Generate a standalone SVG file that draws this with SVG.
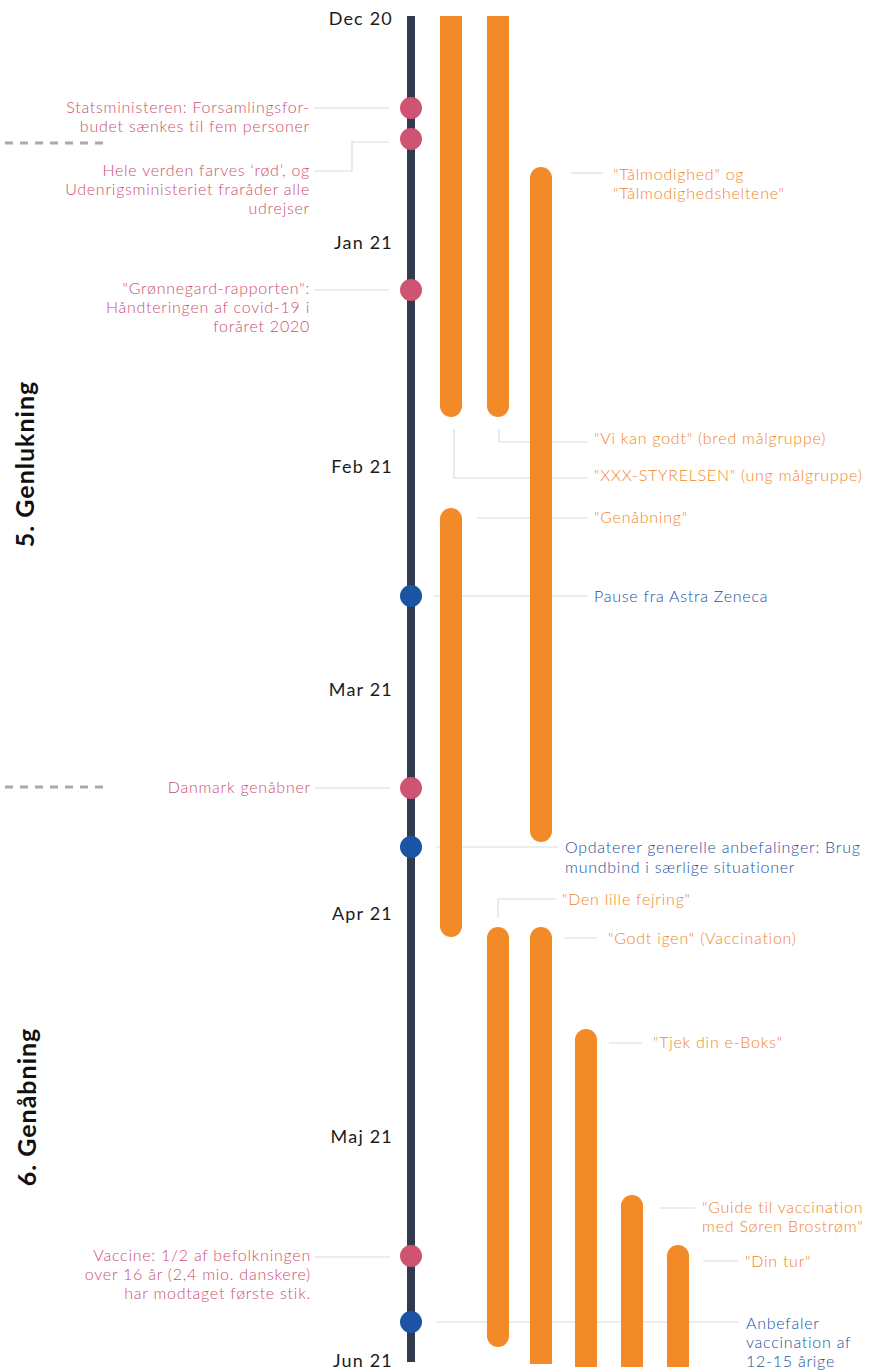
<svg xmlns="http://www.w3.org/2000/svg" width="874" height="1372" viewBox="0 0 874 1372">
<style>
text{font-family:Lato,"Open Sans","Liberation Sans",sans-serif}
.m{font-size:18px;letter-spacing:1.2px;fill:#1c1c1c;text-anchor:end}
.p{font-size:16px;letter-spacing:0.75px;font-weight:300;fill:#cd4f6f;text-anchor:end}
.o{font-size:16px;letter-spacing:0.75px;font-weight:300;fill:#f2861f}
.b{font-size:16px;letter-spacing:0.75px;font-weight:300;fill:#1a50a0}
.sec{font-size:25px;letter-spacing:1px;font-weight:bold;fill:#111;text-anchor:middle}
.c{fill:none;stroke:#dcdcdc;stroke-width:1.2}
.dash{fill:none;stroke:#aaaaaa;stroke-width:3;stroke-dasharray:8,7}
.bar{fill:#f28a27}
.dp{fill:#cf5472}
.db{fill:#1a54a3}
</style>
<rect width="874" height="1372" fill="#fff"/>
<g id="sections">
<line class="dash" x1="5" y1="143" x2="110" y2="143"/>
<line class="dash" x1="5" y1="787" x2="110" y2="787"/>
<text class="sec" transform="translate(34,464) rotate(-90)">5. Genlukning</text>
<text class="sec" transform="translate(36,1107) rotate(-90)">6. Genåbning</text>
</g>
<g id="connectors">
<path class="c" d="M314,108 H389"/>
<path class="c" d="M314,171 H352 V142 H389"/>
<path class="c" d="M314,290 H389"/>
<path class="c" d="M315,788 H390"/>
<path class="c" d="M315,1257 H390"/>
<path class="c" d="M571,173 H603"/>
<path class="c" d="M499,429 V442 H588"/>
<path class="c" d="M454,429 V478 H588"/>
<path class="c" d="M477,518 H588"/>
<path class="c" d="M433,596 H588"/>
<path class="c" d="M436,847 H558"/>
<path class="c" d="M498,918 V899 H556"/>
<path class="c" d="M564,938 H597"/>
<path class="c" d="M609,1043 H642"/>
<path class="c" d="M660,1208 H695"/>
<path class="c" d="M703,1261 H738"/>
<path class="c" d="M436,1322 H738"/>
</g>
<g id="axis">
<rect x="407" y="16" width="8" height="1346" fill="#313a4f"/>
<text class="m" x="393" y="25">Dec 20</text>
<text class="m" x="393" y="249">Jan 21</text>
<text class="m" x="393" y="473">Feb 21</text>
<text class="m" x="393" y="696">Mar 21</text>
<text class="m" x="393" y="920">Apr 21</text>
<text class="m" x="393" y="1143">Maj 21</text>
<text class="m" x="393" y="1367">Jun 21</text>
</g>
<g id="bars">
<path class="bar" d="M440,16 H462 V406 A11,11 0 0 1 440,406 Z"/>
<path class="bar" d="M487,16 H509 V406 A11,11 0 0 1 487,406 Z"/>
<rect class="bar" x="530" y="167" width="22" height="675" rx="11"/>
<rect class="bar" x="440" y="508" width="22" height="429" rx="11"/>
<rect class="bar" x="487" y="927" width="22" height="420" rx="11"/>
<path class="bar" d="M530,1364 V938 A11,11 0 0 1 552,938 V1364 Z"/>
<path class="bar" d="M575,1367 V1040 A11,11 0 0 1 597,1040 V1367 Z"/>
<path class="bar" d="M621,1367 V1206 A11,11 0 0 1 643,1206 V1367 Z"/>
<path class="bar" d="M667,1367 V1256 A11,11 0 0 1 689,1256 V1367 Z"/>
</g>
<g id="n1"><circle class="dp" cx="411" cy="108" r="11"/>
<text class="p"><tspan x="310" y="113">Statsministeren: Forsamlingsfor-</tspan><tspan x="310" y="132">budet sænkes til fem personer</tspan></text></g>
<g id="n2"><circle class="dp" cx="411" cy="139" r="11"/>
<text class="p"><tspan x="310" y="176">Hele verden farves ‘rød’, og</tspan><tspan x="310" y="195">Udenrigsministeriet fraråder alle</tspan><tspan x="310" y="214">udrejser</tspan></text></g>
<g id="n3"><circle class="dp" cx="411" cy="290" r="11"/>
<text class="p"><tspan x="310" y="294">"Grønnegard-rapporten":</tspan><tspan x="310" y="313">Håndteringen af covid-19 i</tspan><tspan x="310" y="332">foråret 2020</tspan></text></g>
<g id="n4"><circle class="db" cx="411" cy="596" r="11"/>
<text class="b" x="594" y="602">Pause fra Astra Zeneca</text></g>
<g id="n5"><circle class="dp" cx="411" cy="788" r="11"/>
<text class="p" x="311" y="793">Danmark genåbner</text></g>
<g id="n6"><circle class="db" cx="411" cy="847" r="11"/>
<text class="b"><tspan x="565" y="853">Opdaterer generelle anbefalinger: Brug</tspan><tspan x="565" y="873">mundbind i særlige situationer</tspan></text></g>
<g id="n7"><circle class="dp" cx="411" cy="1256" r="11"/>
<text class="p"><tspan x="311" y="1261">Vaccine: 1/2 af befolkningen</tspan><tspan x="311" y="1280">over 16 år (2,4 mio. danskere)</tspan><tspan x="311" y="1299">har modtaget første stik.</tspan></text></g>
<g id="n8"><circle class="db" cx="411" cy="1322" r="11"/>
<text class="b"><tspan x="746" y="1329">Anbefaler</tspan><tspan x="746" y="1348">vaccination af</tspan><tspan x="746" y="1367">12-15 årige</tspan></text></g>
<g id="campaigns">
<text class="o"><tspan x="613" y="180">"Tålmodighed" og</tspan><tspan x="613" y="199">"Tålmodighedsheltene"</tspan></text>
<text class="o" x="594" y="444">"Vi kan godt" (bred målgruppe)</text>
<text class="o" x="594" y="481">"XXX-STYRELSEN" (ung målgruppe)</text>
<text class="o" x="594" y="523">"Genåbning"</text>
<text class="o" x="562" y="905">"Den lille fejring"</text>
<text class="o" x="608" y="944">"Godt igen" (Vaccination)</text>
<text class="o" x="653" y="1048">"Tjek din e-Boks"</text>
<text class="o"><tspan x="702" y="1213">"Guide til vaccination</tspan><tspan x="702" y="1232">med Søren Brostrøm"</tspan></text>
<text class="o" x="745" y="1267">"Din tur"</text>
</g>
</svg>
